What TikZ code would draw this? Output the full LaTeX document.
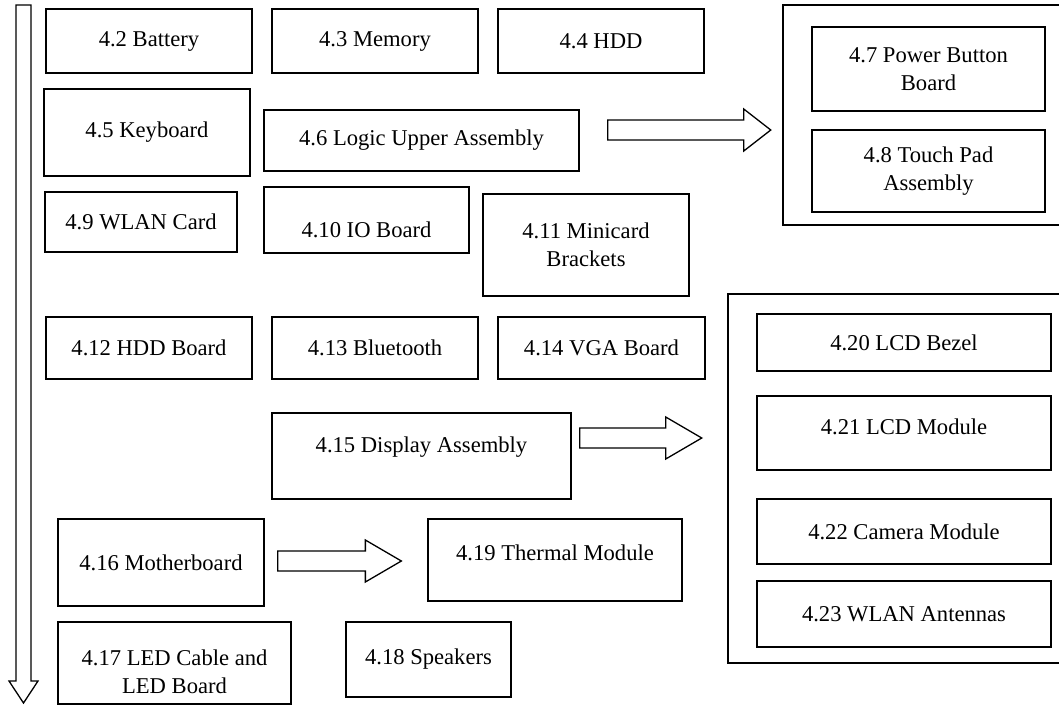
\documentclass[tikz,border=0pt]{standalone}
\usepackage{fontspec}
\setmainfont{Liberation Serif}
\usetikzlibrary{calc}

\begin{document}
\begin{tikzpicture}[
x=1pt, y=-1pt,
font=\fontsize{22.6}{28}\selectfont,
partbox/.style={rectangle, draw, line width=1.3pt, align=center, inner sep=0pt},
groupbox/.style={rectangle, draw, line width=2.5pt},
fatarrow/.style={draw, line width=1.3pt, fill=white, to path={
  let \p1=(\tikztostart), \p2=(\tikztotarget) in
  ({\x1},{\y1+10pt}) -- ({\x2-#1},{\y1+10pt}) -- ({\x2-#1},{\y1+21pt}) -- ({\x2},{\y1})
  -- ({\x2-#1},{\y1-21pt}) -- ({\x2-#1},{\y1-10pt}) -- ({\x1},{\y1-10pt}) -- cycle}},
fatarrow/.default=36
]
\useasboundingbox (0,0) rectangle (1059,705);

% --- Removal order (down the left side) ---
\draw[line width=1.3pt] (16,5) -- (31,5) -- (31,681) -- (38,681) -- (23.5,703) -- (9,681) -- (16,681) -- cycle;

% --- Row 1 ---
\node (bat) [partbox, minimum width=206, minimum height=64] at (149,41) {4.2 Battery};
\node (mem) [partbox, minimum width=206, minimum height=64] at (375,41) {4.3 Memory};
\node (hdd) [partbox, minimum width=206, minimum height=64] at (601,41) {4.4 HDD};

% --- Row 2 ---
\node (kbd) [partbox, minimum width=206, minimum height=87] at (147,132.5) {4.5 Keyboard};
\node (logic) [partbox, minimum width=315, minimum height=61] at (421.5,140.5) {4.6 Logic Upper Assembly};

% --- Row 3 ---
\node (wlan) [partbox, minimum width=192, minimum height=60] at (141,222) {4.9 WLAN Card};
\node (io) [partbox, minimum width=205, minimum height=66, label={[yshift=-10pt]center:4.10 IO Board}] at (366.5,220) {};
\node (mini) [partbox, minimum width=206, minimum height=102] at (586,245) {4.11 Minicard\\Brackets};

% --- Row 4 ---
\node (hddb) [partbox, minimum width=206, minimum height=62] at (149,348) {4.12 HDD Board};
\node (bt) [partbox, minimum width=206, minimum height=62] at (375,348) {4.13 Bluetooth};
\node (vga) [partbox, minimum width=207, minimum height=62] at (601.5,348) {4.14 VGA Board};

% --- Row 5 ---
\node (disp) [partbox, minimum width=299, minimum height=86, label={[yshift=9pt]center:4.15 Display Assembly}] at (421.5,456) {};

% --- Row 6 ---
\node (mobo) [partbox, minimum width=206, minimum height=87] at (161,562.5) {4.16 Motherboard};
\node (therm) [partbox, minimum width=254, minimum height=82, label={[yshift=7pt]center:4.19 Thermal Module}] at (555,560) {};

% --- Row 7 ---
\node (led) [partbox, minimum width=233, minimum height=82, label={[yshift=-9pt, align=center]center:4.17 LED Cable and\\LED Board}] at (174.5,663) {};
\node (spk) [partbox, minimum width=165, minimum height=75] at (428.5,659.5) {4.18 Speakers};

% --- Logic upper sub-parts ---
\node (topgrp) [groupbox, minimum width=287, minimum height=220] at (926.5,115) {};
\node (pwr) [partbox, minimum width=233, minimum height=84] at (928.5,69) {4.7 Power Button\\Board};
\node (touch) [partbox, minimum width=233, minimum height=82] at (928.5,171) {4.8 Touch Pad\\Assembly};

% --- Display sub-parts ---
\node (lowgrp) [groupbox, minimum width=342, minimum height=369] at (899,478.5) {};
\node (bezel) [partbox, minimum width=294, minimum height=57] at (904,342.5) {4.20 LCD Bezel};
\node (lcd) [partbox, minimum width=294, minimum height=74, label={[yshift=6pt]center:4.21 LCD Module}] at (904,433) {};
\node (cam) [partbox, minimum width=294, minimum height=65] at (904,531.5) {4.22 Camera Module};
\node (ant) [partbox, minimum width=294, minimum height=66] at (904,614) {4.23 WLAN Antennas};

% --- Block arrows ---
\draw [fatarrow=27] ([shift={(28,-10.5)}]logic.east) to ([xshift=-11pt]topgrp.west);
\draw [fatarrow] ([shift={(8,-18)}]disp.east) to ([xshift=-25pt]lowgrp.west);
\draw [fatarrow] ([shift={(13,-1.5)}]mobo.east) to ([xshift=-26pt]therm.west);

\end{tikzpicture}
\end{document}
